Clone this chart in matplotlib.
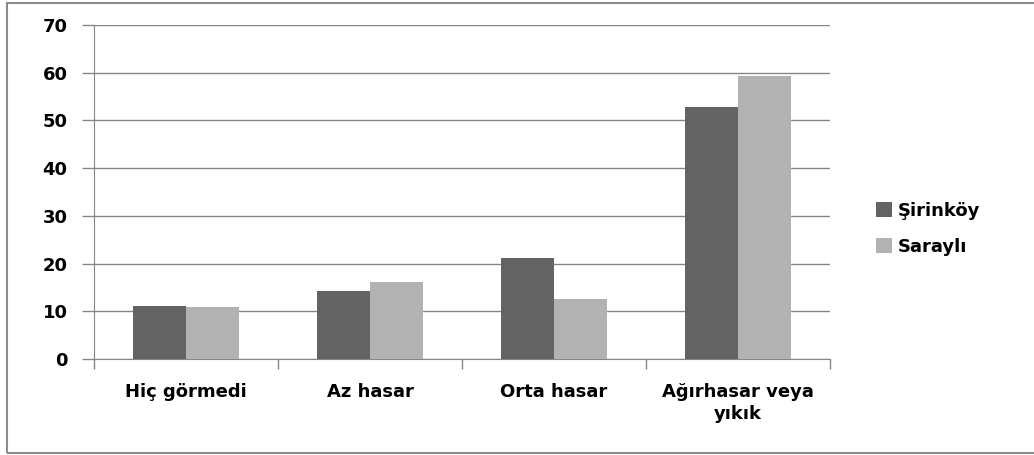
import matplotlib as mpl
mpl.use('Agg')
import matplotlib.pyplot as plt
import numpy as np

# kategoriler ve seriler
categories = ['Hiç görmedi', 'Az hasar', 'Orta hasar', 'Ağırhasar veya\nyıkık']
sirinkoy = [11.2, 14.3, 21.2, 52.8]
sarayli = [10.9, 16.1, 12.6, 59.3]
series_names = ['Şirinköy', 'Saraylı']

plt.rcParams['font.family'] = ['DejaVu Sans']
plt.rcParams['font.weight'] = 'bold'

fig = plt.figure(figsize=(10.34, 4.55), dpi=100)
ax = fig.add_axes([0.0909, 0.2110, 0.7118, 0.7341])

grid_c = '#868686'
x = np.arange(len(categories))
w = 0.288
ax.bar(x - w / 2, sirinkoy, width=w, color='#636363', label=series_names[0], zorder=3)
ax.bar(x + w / 2, sarayli, width=w, color='#b2b2b2', label=series_names[1], zorder=3)

ax.set_xlim(-0.5, len(categories) - 0.5)
ax.set_ylim(0, 70)
ax.set_yticks(range(0, 71, 10))
ax.yaxis.grid(True, color=grid_c, linewidth=1, zorder=0)

# kategori sınırlarında tick
ax.set_xticks(np.arange(-0.5, len(categories), 1.0))
ax.set_xticklabels([])
ax.set_xticks(x, minor=True)
ax.set_xticklabels(categories, minor=True, fontsize=13, fontweight='bold',
                   linespacing=1.3)
ax.tick_params(axis='x', which='minor', length=0, pad=17)
ax.tick_params(axis='x', which='major', length=7, color=grid_c, width=1)
ax.tick_params(axis='y', length=9, color=grid_c, width=1, labelsize=13, pad=10)
for lab in ax.get_yticklabels():
    lab.set_fontweight('bold')

for s in ['top', 'right']:
    ax.spines[s].set_visible(False)
for s in ['left', 'bottom']:
    ax.spines[s].set_color(grid_c)

leg = ax.legend(loc='center left', bbox_to_anchor=(1.04, 0.39), frameon=False,
                fontsize=13, handlelength=0.9, handleheight=0.9, handletextpad=0.3,
                labelspacing=1.0)

# dış çerçeve
fig.add_artist(plt.Rectangle((7 / 1034, 2 / 455), 1.2, 450 / 455, transform=fig.transFigure,
                             fill=False, edgecolor='#8c8c8c', linewidth=1.5))

plt.savefig('out.png')
plt.close()
